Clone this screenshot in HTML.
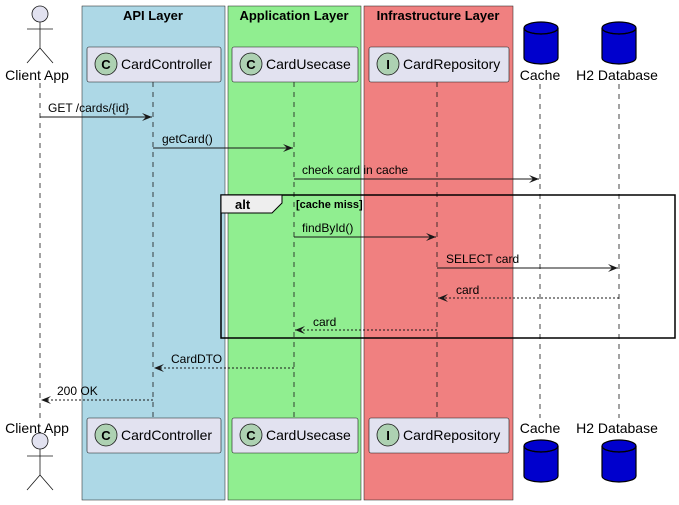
<!DOCTYPE html>
<html><head><style>body{margin:0;background:#fff}svg{display:block;font-family:"Liberation Sans",sans-serif}</style></head><body>
<svg width="679" height="505" viewBox="0 0 679 505" xmlns="http://www.w3.org/2000/svg">
<defs><marker id="a" markerWidth="10" markerHeight="8" refX="10" refY="4" orient="auto" markerUnits="userSpaceOnUse"><path d="M0,0 L10,4 L0,8 L4,4 Z" fill="#181818"/></marker></defs>
<rect x="82" y="6" width="143" height="494" fill="#ADD8E6" stroke="#181818" stroke-width="0.5"/>
<rect x="228" y="6" width="133" height="494" fill="#90EE90" stroke="#181818" stroke-width="0.5"/>
<rect x="364" y="6" width="149" height="494" fill="#F08080" stroke="#181818" stroke-width="0.5"/>
<g font-size="13" font-weight="bold" text-anchor="middle" fill="#000"><text x="153" y="20">API Layer</text><text x="294" y="20">Application Layer</text><text x="438" y="20">Infrastructure Layer</text></g>
<g stroke="#181818" stroke-width="0.8" stroke-dasharray="5,5"><line x1="40" y1="83" x2="40" y2="418"/><line x1="153" y1="82" x2="153" y2="418"/><line x1="294" y1="82" x2="294" y2="418"/><line x1="437" y1="82" x2="437" y2="418"/><line x1="540" y1="84" x2="540" y2="418"/><line x1="619" y1="84" x2="619" y2="418"/></g>
<g id="top">
<circle cx="40" cy="14" r="8" fill="#E2E2F0" stroke="#181818" stroke-width="0.8"/>
<path d="M40,22 V48 M27,29 H53 M27,63 L40,48 L53,63" stroke="#181818" fill="none" stroke-width="0.8"/>
<text x="37" y="80" font-size="14" text-anchor="middle">Client App</text>
<rect x="87" y="47" width="134" height="35" rx="2" fill="#E2E2F0" stroke="#181818" stroke-width="0.6"/>
<circle cx="106" cy="64" r="11" fill="#ADD1B2" stroke="#181818" stroke-width="0.8"/><text x="106" y="69" font-size="13" font-weight="bold" text-anchor="middle">C</text>
<text x="121" y="69" font-size="14">CardController</text>
<rect x="232" y="47" width="126" height="35" rx="2" fill="#E2E2F0" stroke="#181818" stroke-width="0.6"/>
<circle cx="251" cy="64" r="11" fill="#ADD1B2" stroke="#181818" stroke-width="0.8"/><text x="251" y="69" font-size="13" font-weight="bold" text-anchor="middle">C</text>
<text x="266" y="69" font-size="14">CardUsecase</text>
<rect x="369" y="47" width="140" height="35" rx="2" fill="#E2E2F0" stroke="#181818" stroke-width="0.6"/>
<circle cx="388" cy="64" r="11" fill="#ADD1B2" stroke="#181818" stroke-width="0.8"/><text x="388" y="69" font-size="13" font-weight="bold" text-anchor="middle">I</text>
<text x="403" y="69" font-size="14">CardRepository</text>
<path d="M524,28 V58 A17,6 0 0 0 558,58 V28" fill="#0000CD" stroke="#000" stroke-width="1.2"/><ellipse cx="541" cy="28" rx="17" ry="6" fill="#0000CD" stroke="#000" stroke-width="1.2"/><path d="M524,28 A17,6 0 0 0 558,28" fill="none" stroke="#000" stroke-width="1.2"/>
<text x="540" y="80" font-size="14" text-anchor="middle">Cache</text>
<path d="M602,28 V58 A17,6 0 0 0 636,58 V28" fill="#0000CD" stroke="#000" stroke-width="1.2"/><ellipse cx="619" cy="28" rx="17" ry="6" fill="#0000CD" stroke="#000" stroke-width="1.2"/><path d="M602,28 A17,6 0 0 0 636,28" fill="none" stroke="#000" stroke-width="1.2"/>
<text x="617" y="80" font-size="14" text-anchor="middle">H2 Database</text>
</g>
<g transform="translate(0,371)">
<circle cx="40" cy="70" r="8" fill="#E2E2F0" stroke="#181818" stroke-width="0.8"/>
<path d="M40,78 V104 M27,85 H53 M27,119 L40,104 L53,119" stroke="#181818" fill="none" stroke-width="0.8"/>
<text x="37" y="62" font-size="14" text-anchor="middle">Client App</text>
<rect x="87" y="47" width="134" height="35" rx="2" fill="#E2E2F0" stroke="#181818" stroke-width="0.6"/>
<circle cx="106" cy="64" r="11" fill="#ADD1B2" stroke="#181818" stroke-width="0.8"/><text x="106" y="69" font-size="13" font-weight="bold" text-anchor="middle">C</text>
<text x="121" y="69" font-size="14">CardController</text>
<rect x="232" y="47" width="126" height="35" rx="2" fill="#E2E2F0" stroke="#181818" stroke-width="0.6"/>
<circle cx="251" cy="64" r="11" fill="#ADD1B2" stroke="#181818" stroke-width="0.8"/><text x="251" y="69" font-size="13" font-weight="bold" text-anchor="middle">C</text>
<text x="266" y="69" font-size="14">CardUsecase</text>
<rect x="369" y="47" width="140" height="35" rx="2" fill="#E2E2F0" stroke="#181818" stroke-width="0.6"/>
<circle cx="388" cy="64" r="11" fill="#ADD1B2" stroke="#181818" stroke-width="0.8"/><text x="388" y="69" font-size="13" font-weight="bold" text-anchor="middle">I</text>
<text x="403" y="69" font-size="14">CardRepository</text>
<text x="540" y="62" font-size="14" text-anchor="middle">Cache</text>
<path d="M524,75 V105 A17,6 0 0 0 558,105 V75" fill="#0000CD" stroke="#000" stroke-width="1.2"/><ellipse cx="541" cy="75" rx="17" ry="6" fill="#0000CD" stroke="#000" stroke-width="1.2"/><path d="M524,75 A17,6 0 0 0 558,75" fill="none" stroke="#000" stroke-width="1.2"/>
<text x="617" y="62" font-size="14" text-anchor="middle">H2 Database</text>
<path d="M602,75 V105 A17,6 0 0 0 636,105 V75" fill="#0000CD" stroke="#000" stroke-width="1.2"/><ellipse cx="619" cy="75" rx="17" ry="6" fill="#0000CD" stroke="#000" stroke-width="1.2"/><path d="M602,75 A17,6 0 0 0 636,75" fill="none" stroke="#000" stroke-width="1.2"/>
</g>
<rect x="221" y="195" width="454" height="143" fill="none" stroke="#000" stroke-width="1.5"/>
<path d="M221,195 H282 V203 L272,213 H221 Z" fill="#EEEEEE" stroke="#000" stroke-width="1"/>
<text x="235" y="209" font-size="13" font-weight="bold">alt</text>
<text x="296" y="208" font-size="11" font-weight="bold">[cache miss]</text>
<g stroke="#181818" stroke-width="1" fill="none">
<line x1="40" y1="117" x2="152" y2="117" marker-end="url(#a)"/>
<line x1="153" y1="148" x2="293" y2="148" marker-end="url(#a)"/>
<line x1="294" y1="179" x2="539" y2="179" marker-end="url(#a)"/>
<line x1="294" y1="237" x2="436" y2="237" marker-end="url(#a)"/>
<line x1="437" y1="268" x2="618" y2="268" marker-end="url(#a)"/>
<line x1="619" y1="298" x2="438" y2="298" stroke-dasharray="2,2" marker-end="url(#a)"/>
<line x1="437" y1="330" x2="295" y2="330" stroke-dasharray="2,2" marker-end="url(#a)"/>
<line x1="294" y1="368" x2="154" y2="368" stroke-dasharray="2,2" marker-end="url(#a)"/>
<line x1="153" y1="400" x2="41" y2="400" stroke-dasharray="2,2" marker-end="url(#a)"/>
</g>
<g font-size="12" fill="#000">
<text x="48" y="112">GET /cards/{id}</text>
<text x="162" y="143">getCard()</text>
<text x="302" y="174">check card in cache</text>
<text x="302" y="232">findById()</text>
<text x="446" y="263">SELECT card</text>
<text x="456" y="294">card</text>
<text x="313" y="326">card</text>
<text x="171" y="363">CardDTO</text>
<text x="57" y="395">200 OK</text>
</g>
</svg>
</body></html>
